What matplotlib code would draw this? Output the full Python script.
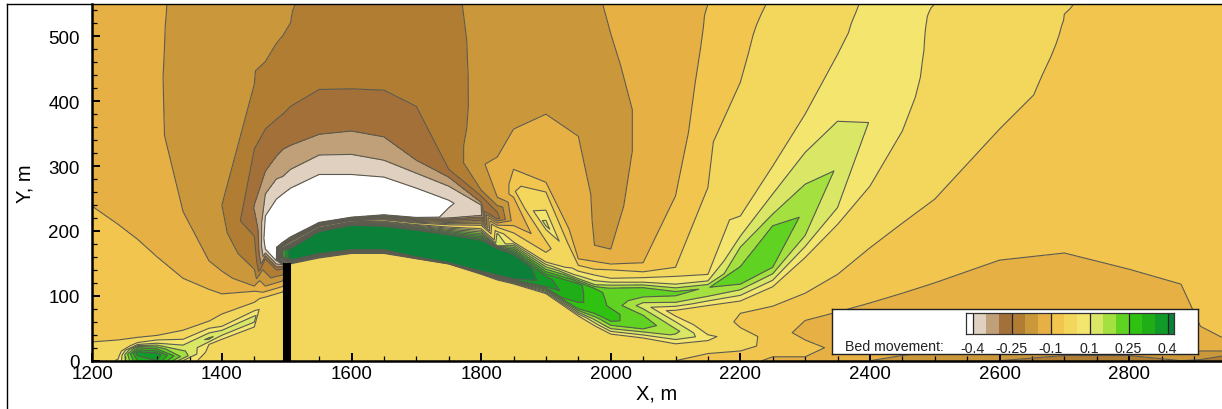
import numpy as np
import matplotlib
matplotlib.use("Agg")
import matplotlib.pyplot as plt
from matplotlib.colors import ListedColormap, BoundaryNorm
from matplotlib.lines import Line2D
from matplotlib.ticker import MultipleLocator

plt.rcParams['font.family'] = ['Liberation Sans', 'DejaVu Sans']

W, H = 1222, 410

# Bed movement read along vertical stations: (y in m, value in 0.01 m)
station_x = [1200, 1240, 1270, 1300, 1340, 1380, 1400, 1450, 1467, 1484, 1494, 1506, 1550, 1600, 1650, 1700, 1750,
             1800, 1825, 1850, 1900, 1950, 1975, 2000, 2050, 2100, 2150, 2200, 2250, 2300, 2350, 2400, 2450, 2500, 2600,
             2700, 2800, 2880, 2910, 2943]
profiles = [
 [(0,-2),(8,-2.5),(14,-3),(20,-4),(25,-4.5),(29,-5),(100,-6.2),(238,-10),(270,-11),(300,-11.7),(350,-12),(380,-12),(420,-12),(450,-12),(470,-12),(490,-12),(505,-12),(520,-12),(535,-12),(550,-12)],
 [(0,6),(8,3),(14,1),(20,-3),(26,-4),(32,-5),(100,-7),(210,-10),(240,-11),(270,-12),(320,-13),(370,-13.2),(420,-13.2),(450,-13.2),(470,-13.1),(490,-13.1),(505,-13),(520,-13),(535,-13),(550,-13)],
 [(0,30),(12,38),(20,25),(25,10),(28,5),(36,-5),(110,-7),(187,-10),(220,-11.5),(260,-13),(320,-14),(370,-14.2),(420,-14.2),(450,-14.2),(470,-14.1),(490,-14.1),(505,-14),(520,-14),(535,-14),(550,-14)],
 [(0,35),(10,38),(20,22),(27,10),(32,5),(39,-5),(130,-8.5),(160,-10),(200,-11.5),(250,-13.5),(310,-14.3),(370,-14.4),(420,-14.4),(450,-14.4),(470,-14.4),(490,-14.4),(505,-14.4),(520,-14.4),(535,-14.4),(550,-14.4)],
 [(0,10),(6,18),(14,16),(24,10),(33,5),(47,-5),(90,-7.5),(127,-10),(170,-12.5),(200,-13.8),(230,-15),(290,-16.5),(340,-16.8),(400,-17),(440,-16.7),(470,-16.5),(490,-16.4),(510,-16.3),(530,-16.1),(550,-16)],
 [(0,1),(14,3),(25,5),(34,16),(50,5),(61,-5),(85,-7.5),(110,-10),(132,-12.5),(154,-15),(195,-17),(260,-18.7),(340,-18.7),(400,-18.2),(440,-18),(470,-17.8),(490,-17.7),(510,-17.5),(530,-17.4),(550,-17.3)],
 [(0,0),(20,2),(33,5),(43,13),(53,5),(72,-5),(85,-8),(103,-10),(120,-12.5),(138,-15),(190,-18),(240,-20),(330,-19.5),(400,-19),(440,-18.7),(470,-18.5),(490,-18.3),(510,-18.2),(530,-18.1),(550,-18)],
 [(0,0),(40,2),(52,5),(64,13),(77,5),(90,-5),(107,-10),(115,-15),(141,-20),(192,-25),(235,-30.3),(326,-25),(426,-20),(450,-19.7),(470,-19.5),(490,-19.4),(505,-19.3),(520,-19.2),(535,-19.1),(550,-19)],
 [(0,0),(70,1),(82,4),(98,-5),(115,-15),(157,-25),(166,-35),(172,-40),(195,-43),(223,-40),(257,-35),(292,-30),(357,-25),(420,-22.5),(461,-20),(480,-19.8),(500,-19.6),(520,-19.4),(535,-19.3),(550,-19.2)],
 [(0,0),(60,-2),(103,-5),(120,-15),(140,-25),(149,-35),(154,-40),(175,-43),(200,-44),(249,-40),(280,-35),(315,-30),(372,-25),(430,-22.5),(460,-21.3),(489,-20),(505,-19.9),(520,-19.7),(535,-19.6),(550,-19.5)],
 [(0,-1),(60,-2),(106,-5),(123,-15),(141,-25),(148,-35),(160,30),(170,30),(183,-42),(257,-40),(284,-35),(326,-30),(380,-25),(430,-23),(470,-21.5),(501,-20),(515,-19.95),(525,-19.9),(537,-19.85),(550,-19.8)],
 [(0,0),(40,0),(90,0),(130,0),(149,3),(155,40),(161,45),(172,45),(192,-45),(266,-40),(295,-35),(332,-30),(392,-25),(440,-23),(480,-21.5),(500,-20.7),(521,-20),(530,-19.95),(540,-19.9),(550,-19.8)],
 [(0,0),(40,0),(90,0),(145,0),(158,3),(165,40),(172,45),(198,45),(214,-45),(287,-40),(317,-35),(349,-30),(418,-25),(445,-24),(470,-23),(490,-22.5),(505,-22),(520,-21.6),(535,-21.3),(550,-21)],
 [(0,0),(40,0),(90,0),(150,0),(165,3),(171,40),(176,45),(208,45),(222,-45),(287,-40),(318,-35),(354,-30),(419,-25),(445,-24.5),(470,-24),(490,-23.5),(505,-23.1),(520,-22.8),(535,-22.4),(550,-22)],
 [(0,0),(40,0),(90,0),(150,0),(165,3),(171,40),(177,45),(206,45),(226,-45),(283,-40),(309,-35),(345,-30),(417,-25),(445,-24.7),(470,-24.4),(490,-24.1),(510,-23.8),(525,-23.5),(538,-23.2),(550,-23)],
 [(0,0),(50,0),(90,0),(130,0),(157,3),(160,40),(164,45),(200,45),(222,-45),(266,-40),(289,-35),(309,-30),(392,-25),(430,-24.5),(460,-24),(485,-23.7),(505,-23.2),(520,-22.8),(535,-22.4),(550,-22)],
 [(0,0),(50,0),(90,0),(130,0),(149,3),(151,40),(154,45),(192,45),(221,-38),(243,-41),(269,-35),(283,-30),(295,-25),(320,-24),(350,-23),(380,-22.5),(410,-22),(450,-21.5),(500,-21),(550,-20.5)],
 [(0,0),(50,0),(90,0),(120,0),(133,3),(138,40),(143,45),(183,45),(225,-37),(240,-35),(244,-30),(254,-25),(263,-20),(287,-15.3),(310,-16.5),(340,-18),(380,-18.7),(430,-19),(490,-19.2),(550,-19.3)],
 [(0,0),(50,0),(90,0),(115,0),(124,3),(132,40),(139,45),(172,45),(177,15),(195,11),(220,-27),(229,-25),(239,-20),(252,-15),(280,-10.2),(314,-15),(370,-17),(430,-18),(490,-18.3),(550,-18.5)],
 [(0,0),(50,0),(90,0),(110,1),(118,3),(126,40),(133,45),(161,45),(183,5),(197,-5),(215,-13),(252,-10),(264,-6),(280,-8),(295,-10),(326,-12.5),(357,-15),(420,-16),(490,-17),(550,-18)],
 [(0,0),(40,0),(70,0),(95,1),(103,4),(114,35),(120,38),(129,36),(152,5),(167,-5),(180,-7.5),(201,4),(210,12),(232,5),(260,-5),(275,-10),(380,-15),(430,-16),(490,-16.5),(550,-17)],
 [(0,0),(20,0),(40,0),(62,2),(69,5),(80,25),(92,31),(105,31),(118,31),(128,12),(134,8),(138,5),(147,-5),(157,-10),(180,-12),(215,-10.3),(245,-11),(346,-15),(440,-16),(550,-16)],
 [(0,0),(20,0),(41,1),(54,5),(64,16),(74,26),(85,28),(97,28),(110,27),(118,14),(126,8),(132,5),(141,-5),(153,-10),(178,-15),(215,-15.8),(260,-16.2),(330,-16.3),(440,-16),(550,-15.5)],
 [(0,0),(20,0),(41,5),(52,18),(62,26),(72,27),(85,24),(92,23.5),(100,23),(110,22),(121,10),(127,5),(140,-5),(149,-10),(172,-15),(210,-16),(270,-17),(320,-17),(440,-15.7),(550,-14.5)],
 [(0,-2),(20,1),(35,5),(49,20),(60,22.5),(70,20),(85,12.5),(93,17),(100,21),(110,23),(121,10),(128,5),(137,-5),(151,-10),(200,-12.5),(280,-13.5),(350,-14),(420,-14),(490,-13.4),(550,-13)],
 [(0,-5),(18,1),(26,5),(38,14),(46,16.5),(60,10),(74,2),(90,15),(100,20),(106,20.5),(118,10),(130,5),(144,-5),(254,-10),(300,-11),(360,-11.5),(420,-11.7),(470,-11.8),(510,-11.7),(550,-11.5)],
 [(0,-7),(11,-5),(31,5),(36,7.5),(40,5),(52,1),(68,-1.5),(85,5),(105,19),(112,19.8),(123,10),(133,5),(267,-5),(360,-7),(430,-8.5),(470,-9),(500,-9.5),(520,-9.7),(535,-9.8),(550,-10)],
 [(0,-8),(15,-5),(25,-2),(40,-1.5),(51,-5),(62,-6.5),(73,-5),(92,5),(118,20),(132,23),(145,20),(175,15),(192,10),(223,5),(429,-5),(470,-5.8),(500,-6.3),(515,-6.5),(532,-6.8),(550,-7)],
 [(0,-11),(6,-10),(20,-8),(35,-8),(45,-8.5),(55,-9),(84,-5),(114,5),(144,20),(172,24.5),(208,20),(226,15),(257,10),(300,5),(430,-1),(480,-2.5),(505,-3),(520,-3.5),(535,-4),(550,-4.5)],
 [(0,-12),(6,-10),(20,-8.5),(32,-10),(42,-11),(62,-10),(104,-5),(159,5),(193,15),(232,19),(272,15),(321,10),(350,7.5),(380,5),(450,3),(490,2),(510,1.5),(525,1),(537,.5),(550,0)],
 [(0,-13),(8,-12),(20,-11),(35,-11),(50,-11),(75,-10),(133,-5),(210,5),(236,10),(300,14.5),(369,10),(420,7.5),(450,6),(472,5),(500,4),(515,3.7),(525,3.5),(533,3.3),(542,3.2),(550,3)],
 [(0,-15),(8,-14),(20,-13),(35,-12),(60,-11),(89,-10),(174,-5),(269,5),(310,8.5),(370,9.8),(420,9.5),(450,9),(480,8),(500,7.5),(515,7),(525,6.8),(533,6.5),(540,6.3),(545,6.1),(550,6)],
 [(0,-17),(8,-15),(20,-13.5),(35,-12.5),(70,-11),(104,-10),(212,-5),(354,5),(390,6),(420,6.5),(445,6.6),(465,6.6),(480,6.5),(495,6.4),(510,6.3),(520,6.2),(528,6),(536,5.9),(543,5.8),(550,5.7)],
 [(0,-18),(8,-16),(20,-14),(35,-13),(70,-11.5),(120,-10),(249,-5),(400,3),(430,3.5),(450,3.8),(470,4),(485,4.2),(497,4.3),(507,4.4),(516,4.5),(524,4.6),(531,4.7),(537,4.8),(544,4.9),(550,5)],
 [(0,-20),(8,-18),(15,-16),(25,-15),(50,-13),(155,-10),(357,-5),(420,-3),(440,-2.5),(460,-2),(475,-1.6),(490,-1.3),(500,-1),(510,-.8),(518,-.6),(525,-.5),(532,-.3),(538,-.2),(544,-.1),(550,0)],
 [(0,-22),(8,-20),(15,-17),(25,-15),(60,-13),(166,-10),(300,-8),(400,-6.8),(440,-6.3),(470,-5.8),(490,-5.5),(505,-5.3),(515,-5.2),(525,-5.05),(534,-5),(538,-4.9),(541,-4.8),(544,-4.7),(547,-4.6),(550,-4.5)],
 [(0,-22),(8,-20),(15,-17),(25,-15),(60,-13),(141,-10),(250,-8.5),(350,-8),(400,-8),(430,-8),(450,-8),(470,-8),(485,-8),(497,-8),(507,-8),(516,-8),(524,-8),(532,-8),(540,-8),(550,-8)],
 [(0,-20),(8,-17),(15,-15),(30,-13.5),(60,-12),(118,-10),(200,-9),(300,-8.5),(380,-8.2),(430,-8),(450,-8),(470,-8),(485,-8),(497,-8),(507,-8),(516,-8),(524,-8),(532,-8),(540,-8),(550,-8)],
 [(0,-21),(5,-18),(10,-15.5),(15,-15),(30,-12),(53,-10),(100,-8.6),(300,-8.2),(380,-8.1),(430,-8),(450,-8),(470,-8),(485,-8),(497,-8),(507,-8),(516,-8),(524,-8),(532,-8),(540,-8),(550,-8)],
 [(0,-25),(7,-20),(15,-15),(25,-12),(36,-10),(100,-8.5),(200,-8.2),(300,-8.1),(380,-8),(430,-8),(450,-8),(470,-8),(485,-8),(497,-8),(507,-8),(516,-8),(524,-8),(532,-8),(540,-8),(550,-8)],
]

levels = [-0.4, -0.35, -0.3, -0.25, -0.2, -0.15, -0.1, -0.05, 0.05, 0.1, 0.15, 0.2, 0.25, 0.3, 0.35, 0.4]
band_colors = ['#FFFFFF', '#DFD0BF', '#C0A078', '#A3703A', '#B17D33', '#CA983B', '#E6B044', '#F2C54E',
               '#F3D65C', '#F4E56E', '#DAE766', '#A4E03F', '#60D222', '#30C210', '#20AE18', '#109A28', '#0A8038']
legend_labels = ['-0.4', '-0.25', '-0.1', '0.1', '0.25', '0.4']
legend_label_levels = [-0.4, -0.25, -0.1, 0.1, 0.25, 0.4]
wall_x, wall_top = 1500, 150

x_limits = (1200, 2943.3)
y_limits = (0, 549.3)

arr = np.array(profiles, dtype=float)   # station, node, (y, z)
X = np.repeat(np.array(station_x, float)[:, None], arr.shape[1], axis=1)
Y = arr[:, :, 0]
Z = arr[:, :, 1] * 0.01

fig = plt.figure(figsize=(W / 100, H / 100), dpi=100, facecolor='white')
def rect(x0, y0, x1, y1):
    return [x0 / W, 1 - y1 / H, (x1 - x0) / W, (y1 - y0) / H]

ax = fig.add_axes(rect(92.3, 5.3, 1222, 361.7))
cmap = ListedColormap(band_colors[1:-1])
cmap.set_under(band_colors[0]); cmap.set_over(band_colors[-1])
norm = BoundaryNorm(levels, cmap.N)
ax.contourf(X, Y, Z, levels=levels, cmap=cmap, norm=norm, extend='both')
ax.contour(X, Y, Z, levels=levels, colors='#5c5a50', linewidths=0.8, linestyles='solid')
ax.vlines(wall_x, 0, wall_top, colors='black', linewidth=5.8, zorder=5)
ax.set_xlim(*x_limits); ax.set_ylim(*y_limits)

ax.xaxis.set_major_locator(MultipleLocator(200)); ax.xaxis.set_minor_locator(MultipleLocator(50))
ax.yaxis.set_major_locator(MultipleLocator(100)); ax.yaxis.set_minor_locator(MultipleLocator(20))
ax.tick_params(which='major', direction='in', length=6, width=1.4, labelsize=13.5, top=False, right=False)
ax.tick_params(which='minor', direction='in', length=3.5, width=0.9, top=False, right=False)
ax.tick_params(axis='x', which='major', pad=3)
ax.tick_params(axis='y', which='major', pad=9)
for s in ['top', 'right']:
    ax.spines[s].set_visible(False)
for s in ['left', 'bottom']:
    ax.spines[s].set_linewidth(1.8)

fig.text(657 / W, 1 - 394 / H, 'X, m', ha='center', va='center', fontsize=14.5)
fig.text(25 / W, 1 - 184 / H, 'Y, m', ha='center', va='center', rotation=90, fontsize=14.5)

fig.add_artist(Line2D([7 / W, 7 / W], [0, 1 - 5.3 / H], color='black', lw=1.0))
fig.add_artist(Line2D([7 / W, 1], [1 - 5.3 / H, 1 - 5.3 / H], color='black', lw=1.0))

# legend box
lg = fig.add_axes(rect(832, 310, 1198, 355), facecolor='white')
lg.set_xticks([]); lg.set_yticks([])
for s in lg.spines.values():
    s.set_linewidth(1.0); s.set_color('#222222')
lg.text((845 - 832) / 366, 0.18, 'Bed movement:', transform=lg.transAxes, fontsize=10.2, va='center', color='#222222')

cb = fig.add_axes(rect(966, 314, 1174, 335))
# first and last band are half as wide as the others in the reference
edges = np.array([-0.5] + list(range(len(levels))) + [len(levels) - 1 + 0.5], float)
cb.pcolormesh(edges, [0, 1], np.arange(len(band_colors))[None, :],
              cmap=ListedColormap(band_colors), shading='flat')
tick_pos = [levels.index(v) for v in legend_label_levels]
cb.vlines(tick_pos, 0, 1, colors='#222222', linewidth=0.9)
cb.set_xlim(edges[0], edges[-1]); cb.set_yticks([])
cb.set_xticks(tick_pos, legend_labels, fontsize=10.2, color='#222222')
cb.tick_params(axis='x', length=0, pad=5)
for s in cb.spines.values():
    s.set_linewidth(0.9); s.set_color('#333333')

fig.savefig('out.png', dpi=100)
